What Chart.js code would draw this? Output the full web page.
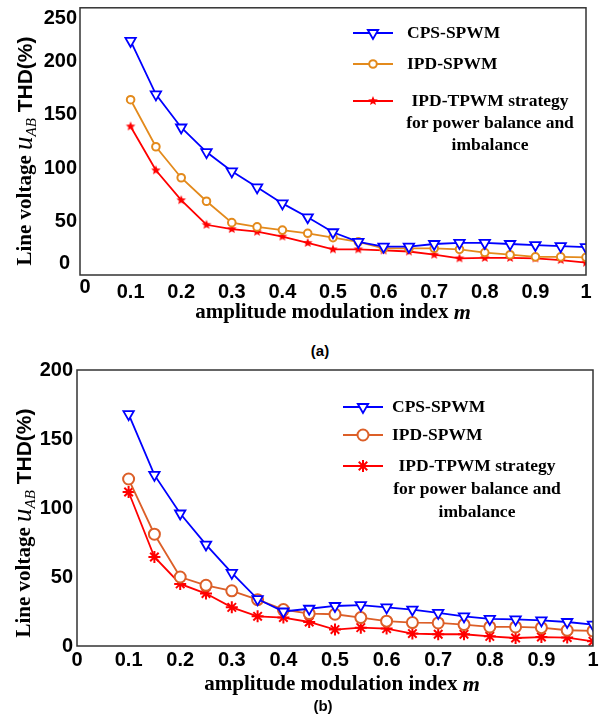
<!DOCTYPE html>
<html>
<head>
<meta charset="utf-8">
<script src="https://cdn.jsdelivr.net/npm/chart.js@4.4.0/dist/chart.umd.min.js"></script>
<style>
  body { margin: 0; background: #fff; }
  #page { position: relative; width: 605px; height: 724px; overflow: hidden; }
  canvas { position: absolute; left: 0; }
  .cap { position: absolute; font: bold 15px "Liberation Sans", Arial, sans-serif; transform: translate(-50%, -50%); }
</style>
</head>
<body>
<div id="page">
  <canvas id="chartA" width="605" height="335" style="top:0px"></canvas>
  <div class="cap" style="left:320px; top:350px">(a)</div>
  <canvas id="chartB" width="605" height="342" style="top:358px"></canvas>
  <div class="cap" style="left:323px; top:705px">(b)</div>
</div>
<script>
// modulation index m
const mIndex = [0.1, 0.15, 0.2, 0.25, 0.3, 0.35, 0.4, 0.45, 0.5, 0.55, 0.6, 0.65, 0.7, 0.75, 0.8, 0.85, 0.9, 0.95, 1.0]

// (a) THD %
const cpsA  = [219, 169, 138, 115, 97, 82, 67, 54, 40, 31, 26.5, 26.5, 29, 30, 30, 29, 28, 27, 26]
const ipdA  = [164, 120, 91, 69, 49, 45, 42, 39, 35, 31, 25, 25, 25, 24, 21, 19, 17, 17, 16.5]
const tpwmA = [139, 98, 70, 47, 43, 40.5, 36, 30, 24, 24, 23, 22, 19, 15.6, 16, 16, 15.6, 14, 11.5]

// (b) THD %
const cpsB  = [168, 124, 96, 73.5, 53, 34, 25, 27, 29, 29.6, 28, 26.4, 24, 21.5, 19.6, 19.3, 18.6, 17.4, 15.5]
const ipdB  = [121, 81, 50, 44, 40, 33.6, 26.4, 23.5, 23, 20.6, 18, 17, 16.7, 15.5, 13.8, 13.8, 13.3, 11.4, 10.9]
const tpwmB = [111.6, 64.5, 45, 38, 28, 21.5, 20.6, 17.4, 11.9, 13.3, 12.6, 9, 8.5, 8.5, 7, 5.8, 6.5, 6.1, 3.4]

const seriesNames = ["CPS-SPWM", "IPD-SPWM", ["IPD-TPWM strategy", "for power balance and", "imbalance"]]
const mTicks = ["0", "0.1", "0.2", "0.3", "0.4", "0.5", "0.6", "0.7", "0.8", "0.9", "1"]
const thdTicksA = ["0", "50", "100", "150", "200", "250"]
const thdTicksB = ["0", "50", "100", "150", "200"]

const SERIF = '"Liberation Serif", "Times New Roman", serif'
const SANS = '"Liberation Sans", Arial, sans-serif'

function starImage(r, color) {
  const c = document.createElement("canvas")
  c.width = c.height = r * 2 + 2
  const g = c.getContext("2d")
  g.fillStyle = color
  g.beginPath()
  for (let i = 0; i < 10; i++) {
    const rr = i % 2 ? r * 0.45 : r
    const ang = -Math.PI / 2 + i * Math.PI / 5
    g.lineTo(r + 1 + rr * Math.cos(ang), r + 1 + rr * Math.sin(ang))
  }
  g.closePath()
  g.fill()
  return c
}

function pts(vals) {
  return vals.map((v, i) => ({ x: mIndex[i], y: v }))
}

const deco = {
  id: "deco",
  afterDraw(chart, args, o) {
    const ctx = chart.ctx, a = chart.chartArea
    ctx.save()
    ctx.strokeStyle = "#333"
    ctx.lineWidth = 1.5
    ctx.strokeRect(a.left, a.top, a.right - a.left, a.bottom - a.top)

    ctx.fillStyle = "#000"
    ctx.textBaseline = "middle"

    // edge tick labels pulled inward (only in (a))
    if (o.edge) {
      const yt = chart.options.plugins.deco.yTicks
      ctx.font = "bold 20px " + SANS
      ctx.textAlign = "right"
      ctx.fillText(yt[0], a.left - 10, a.bottom - 12)
      ctx.fillText(yt[yt.length - 1], a.left - 3, a.top + 11)
      ctx.textAlign = "center"
      ctx.fillText(mTicks[0], a.left + 5, a.bottom + 12)
    }

    // x title
    ctx.font = "bold 21px " + SERIF
    const w1 = ctx.measureText("amplitude modulation index ").width
    ctx.font = "italic bold 22px " + SERIF
    const w2 = ctx.measureText("m").width
    let x0 = o.xTitle[0] - (w1 + w2) / 2
    ctx.textAlign = "left"
    ctx.font = "bold 21px " + SERIF
    ctx.fillText("amplitude modulation index ", x0, o.xTitle[1])
    ctx.font = "italic bold 22px " + SERIF
    ctx.fillText("m", x0 + w1, o.xTitle[1])

    // y title
    ctx.translate(o.yTitle[0], o.yTitle[1])
    ctx.rotate(-Math.PI / 2)
    const parts = [
      { t: "Line voltage ", f: "bold 21px " + SERIF, dy: 0 },
      { t: "u", f: "italic 27px " + SERIF, dy: -1 },
      { t: "AB", f: "italic 15px " + SERIF, dy: 6 },
      { t: " THD(%)", f: "bold 21px " + SANS, dy: 0 }
    ]
    let total = 0
    parts.forEach(p => { ctx.font = p.f; p.w = ctx.measureText(p.t).width; total += p.w })
    let px = -total / 2
    parts.forEach(p => { ctx.font = p.f; ctx.fillText(p.t, px, p.dy); px += p.w })
    ctx.setTransform(1, 0, 0, 1, 0, 0)

    // legend
    const L = o.legend
    chart.data.datasets.forEach((ds, i) => {
      const y = L.rows[i]
      ctx.strokeStyle = ds.borderColor
      ctx.lineWidth = ds.borderWidth
      ctx.beginPath()
      ctx.moveTo(L.x1, y)
      ctx.lineTo(L.x2, y)
      ctx.stroke()
      ctx.fillStyle = ds.pointBackgroundColor
      ctx.lineWidth = ds.pointBorderWidth
      Chart.helpers.drawPoint(ctx, {
        pointStyle: ds.pointStyle, radius: ds.pointRadius,
        rotation: ds.pointRotation || 0, borderWidth: ds.pointBorderWidth
      }, (L.x1 + L.x2) / 2, y)
      ctx.fillStyle = "#000"
      ctx.font = "bold 17.5px " + SERIF
      const name = seriesNames[i]
      if (Array.isArray(name)) {
        ctx.textAlign = "center"
        name.forEach((ln, k) => ctx.fillText(ln, L.cx, y + k * L.gap))
      } else {
        ctx.textAlign = "left"
        ctx.fillText(name, L.tx, y)
      }
    })
    ctx.restore()
  }
}

function makeChart(id, vals, opt) {
  const datasets = [
    { data: pts(vals[0]), borderColor: "#0000ff", borderWidth: 1.8, pointStyle: "triangle", pointRotation: 180,
      pointRadius: opt.triR, pointBorderWidth: 1.8, pointBackgroundColor: "#fff", pointBorderColor: "#0000ff" },
    { data: pts(vals[1]), borderColor: opt.orange, borderWidth: 1.8, pointStyle: "circle",
      pointRadius: opt.circR, pointBorderWidth: 2, pointBackgroundColor: "#fff", pointBorderColor: opt.orange },
    { data: pts(vals[2]), borderColor: "#ff0000", borderWidth: 1.8, pointStyle: opt.star,
      pointRadius: opt.starR, pointBorderWidth: 2, pointBackgroundColor: "#ff0000", pointBorderColor: "#ff0000" }
  ]
  const yLast = opt.yTicks.length - 1
  // in (a) the edge labels are drawn by the plugin, shifted inward
  const hideY = c => (opt.edge && (c.index === 0 || c.index === yLast)) ? "rgba(0,0,0,0)" : "#000"
  const hideX = c => (opt.edge && c.index === 0) ? "rgba(0,0,0,0)" : "#000"
  return new Chart(document.getElementById(id), {
    type: "line",
    data: { datasets },
    options: {
      responsive: false,
      animation: false,
      devicePixelRatio: 1,
      layout: { padding: opt.pad },
      plugins: {
        legend: { display: false },
        tooltip: { enabled: false },
        deco: { xTitle: opt.xTitle, yTitle: opt.yTitle, legend: opt.legend, edge: opt.edge, yTicks: opt.yTicks }
      },
      scales: {
        x: {
          type: "linear", min: 0, max: 1,
          grid: { display: false, drawTicks: false },
          border: { display: false },
          ticks: { stepSize: 0.1, padding: opt.xPad, color: hideX, font: { family: SANS, weight: "bold", size: 20 },
            maxRotation: 0, autoSkip: false, callback: (v, i) => mTicks[i] },
          afterFit: s => { s.height = opt.xH; s.paddingLeft = 0; s.paddingRight = 0 }
        },
        y: {
          min: 0, max: opt.yMax,
          grid: { display: false, drawTicks: false },
          border: { display: false },
          ticks: { stepSize: 50, padding: opt.yPad, color: hideY, font: { family: SANS, weight: "bold", size: 20 },
            callback: (v, i) => opt.yTicks[i] },
          afterFit: s => { s.width = opt.yW; s.paddingTop = 0; s.paddingBottom = 0 }
        }
      }
    },
    plugins: [deco]
  })
}

makeChart("chartA", [cpsA, ipdA, tpwmA], {
  orange: "#e38a1c", star: starImage(5, "#ff0000"), triR: 6, circR: 3.8, starR: 5, edge: true,
  pad: { left: 0, right: 19, top: 7, bottom: 0 }, xH: 60, yW: 80, xPad: 5, yPad: 3, yMax: 250, yTicks: thdTicksA,
  xTitle: [333, 313], yTitle: [26, 151],
  legend: { rows: [33, 64, 101], x1: 353, x2: 393, tx: 407, cx: 490, gap: 22 }
})

makeChart("chartB", [cpsB, ipdB, tpwmB], {
  orange: "#dc5f28", star: "star", triR: 6, circR: 5.5, starR: 6, edge: false,
  pad: { left: 0, right: 12, top: 12, bottom: 0 }, xH: 54, yW: 77, xPad: 2, yPad: 4, yMax: 200, yTicks: thdTicksB,
  xTitle: [342, 327], yTitle: [25, 165],
  legend: { rows: [49, 77, 108], x1: 343, x2: 383, tx: 392, cx: 477, gap: 23 }
})
</script>
</body>
</html>
